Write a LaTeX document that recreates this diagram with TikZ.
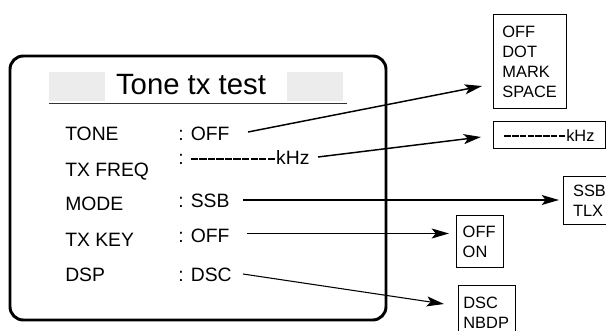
\documentclass[tikz,border=0pt]{standalone}
\usepackage{fontspec}
\setmainfont{Liberation Sans}
\usetikzlibrary{arrows.meta}

\definecolor{titlegray}{RGB}{236,236,236}
% a run of short dashes: count, dash length, gap
\newcommand{\dashrun}[3]{\foreach \k in {1,...,#1}{\rule[0.24em]{#2}{0.11em}\kern#3}}

\begin{document}
\begin{tikzpicture}[x=0.75pt,y=-0.75pt]
\tikzset{
  menuframe/.style={draw=black,line width=2.2pt,rounded corners=10pt},
  fieldname/.style={anchor=base west,inner sep=0pt,font=\fontsize{14.5pt}{17pt}\selectfont},
  fieldvalue/.style={anchor=base west,inner sep=0pt,font=\fontsize{14.5pt}{17pt}\selectfont},
  optionbox/.style={draw=black,line width=1.1pt,anchor=north west,align=left,inner ysep=0pt,font=\fontsize{12.3pt}{15pt}\selectfont},
  pointer/.style={draw=black,line width=1.1pt,-{Stealth[length=13pt,width=7.5pt,inset=3pt]}}
}
\useasboundingbox (0,0) rectangle (606,331);
\clip (0,0) rectangle (606,331);
% screen
\draw[menuframe] (10,56) rectangle (386,320);
\fill[titlegray] (49,72) rectangle (105,101);
\fill[titlegray] (287,72) rectangle (343,101);
\node[anchor=base,inner sep=0pt,font=\fontsize{22pt}{25pt}\selectfont] (title) at (191,95) {Tone tx test};
\draw[line width=0.8pt,black!80] (49,103.5) -- (347,103.5);
\node[fieldname] (f_tone) at (65,141) {TONE};
\node[fieldname] (f_freq) at (65,177) {TX FREQ};
\node[fieldname] (f_mode) at (65,211) {MODE};
\node[fieldname] (f_key) at (65,247) {TX KEY};
\node[fieldname] (f_dsp) at (65,281) {DSP};
\node[fieldvalue] (v_tone) at (178,141) {: OFF};
\node[fieldvalue] (v_freq) at (178,165) {: \dashrun{10}{5.4pt}{1pt}kHz};
\node[fieldvalue] (v_mode) at (178,208) {: SSB};
\node[fieldvalue] (v_key) at (178,243) {: OFF};
\node[fieldvalue] (v_dsp) at (178,281) {: DSC};
% choices
\node[optionbox,inner xsep=6.5pt,text width=41.5pt,minimum height=70.5pt] (b_tone) at (493,14) {OFF\\DOT\\MARK\\SPACE};
\node[optionbox,inner xsep=8pt,text width=68pt,minimum height=20.25pt] (b_freq) at (493,121) {\dashrun{8}{4.9pt}{0.9pt}kHz};
\node[optionbox,inner xsep=7pt,text width=26pt,minimum height=36pt] (b_mode) at (563,176) {SSB\\TLX};
\node[optionbox,inner xsep=4.5pt,text width=26pt,minimum height=39pt] (b_key) at (456,215) {OFF\\ON};
\node[optionbox,inner xsep=3.5pt,text width=35.5pt,minimum height=40.5pt] (b_dsp) at (458,285) {DSC\\NBDP};
% pointers
\coordinate (s_tone) at (248,132);
\coordinate (e_tone) at (482,86);
\coordinate (s_freq) at (318,157);
\coordinate (e_freq) at (481,137);
\coordinate (s_mode) at (243,200);
\coordinate (e_mode) at (559,200);
\coordinate (s_key) at (247,233.5);
\coordinate (e_key) at (449,233.5);
\coordinate (s_dsp) at (243,274);
\coordinate (e_dsp) at (444,304);
\draw[pointer] (s_tone) -- (e_tone);
\draw[pointer] (s_freq) -- (e_freq);
\draw[pointer] (s_mode) -- (e_mode);
\draw[pointer] (s_key) -- (e_key);
\draw[pointer,line width=0.8pt] (s_dsp) -- (e_dsp);
\end{tikzpicture}
\end{document}
